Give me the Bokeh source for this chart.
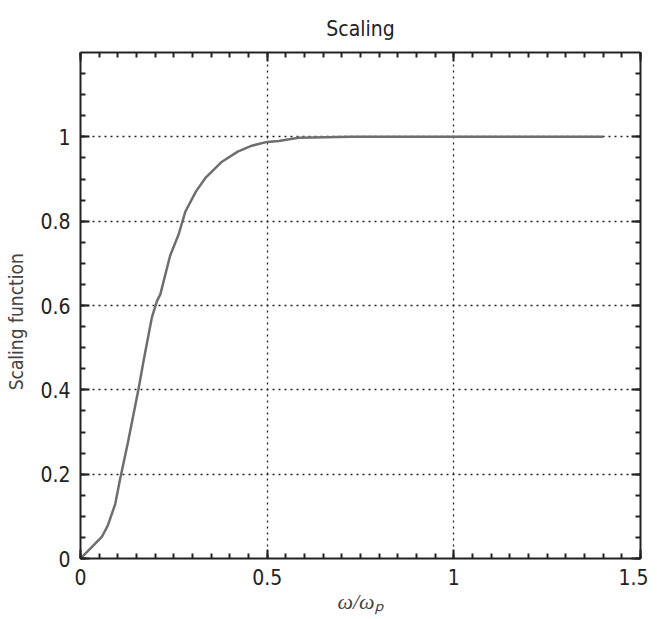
from bokeh.plotting import figure
from bokeh.models import LinearAxis, SingleIntervalTicker, Range1d, Title
from bokeh.embed import file_html
from bokeh.resources import INLINE

# data
omega_ratio = [0, 0.057, 0.073, 0.093, 0.106, 0.127, 0.155, 0.169, 0.191, 0.205, 0.214,
               0.240, 0.263, 0.281, 0.309, 0.336, 0.379, 0.421, 0.459, 0.500, 0.531,
               0.584, 0.727, 1.40]
scaling = [0, 0.051, 0.078, 0.129, 0.188, 0.275, 0.400, 0.469, 0.571, 0.611, 0.627,
           0.718, 0.769, 0.823, 0.870, 0.904, 0.941, 0.965, 0.979, 0.988, 0.990,
           0.998, 1.000, 1.000]
x_ticks_interval = 0.5
y_ticks_interval = 0.2

FONT = "DejaVu Sans Condensed, Roboto, sans-serif"

p = figure(frame_width=560, frame_height=506, output_backend="svg", toolbar_location=None,
           x_range=Range1d(0, 1.5), y_range=Range1d(0, 1.2),
           min_border_left=80, min_border_right=8, min_border_top=52, min_border_bottom=58,
           x_axis_location=None, y_axis_location=None)
p.outline_line_color = None
p.background_fill_color = "white"

def make_axis(interval, minor, labels=True, label_text=None):
    ax = LinearAxis(ticker=SingleIntervalTicker(interval=interval, num_minor_ticks=minor))
    ax.axis_line_width = 2
    ax.axis_line_color = "#222222"
    ax.major_tick_in = 9
    ax.major_tick_out = 0
    ax.minor_tick_in = 5
    ax.minor_tick_out = 0
    ax.major_tick_line_width = 2
    ax.minor_tick_line_width = 2
    ax.major_tick_line_color = "#222222"
    ax.minor_tick_line_color = "#222222"
    if labels:
        ax.major_label_text_font = FONT
        ax.major_label_text_font_size = "21px"
        ax.major_label_text_color = "#222222"
    else:
        ax.major_label_text_alpha = 0
        ax.major_label_text_font_size = "0px"
        ax.major_label_standoff = 0
    if label_text is not None:
        ax.axis_label = label_text
    return ax

xb = make_axis(x_ticks_interval, 10, True, "ω/ωₚ")
xb.axis_label_text_font = "Liberation Serif, serif"
xb.axis_label_text_font_style = "italic"
xb.axis_label_text_font_size = "22px"
xb.axis_label_standoff = 1
xb.major_label_standoff = 10
p.add_layout(xb, "below")

yl = make_axis(y_ticks_interval, 4, True, "Scaling function" + "\u00a0" * 6)
yl.axis_label_text_font = FONT
yl.axis_label_text_font_style = "normal"
yl.axis_label_text_font_size = "19px"
yl.axis_label_standoff = 10
yl.major_label_standoff = 10
p.add_layout(yl, "left")

p.add_layout(make_axis(x_ticks_interval, 10, False), "above")
p.add_layout(make_axis(y_ticks_interval, 4, False), "right")

p.add_layout(Title(text="Scaling", text_font=FONT, text_font_size="21px",
                   text_font_style="normal", align="center", text_color="#222222",
                   vertical_align="top", standoff=20), "above")

p.xgrid.ticker = SingleIntervalTicker(interval=x_ticks_interval)
p.ygrid.ticker = SingleIntervalTicker(interval=y_ticks_interval)
for g in (p.xgrid, p.ygrid):
    g.grid_line_color = "#222222"
    g.grid_line_dash = "2 4"
    g.grid_line_width = 1.3

p.line(omega_ratio, scaling, line_color="#6e6e6e", line_width=2.5)

open("out.html", "w").write(file_html(p, INLINE))
